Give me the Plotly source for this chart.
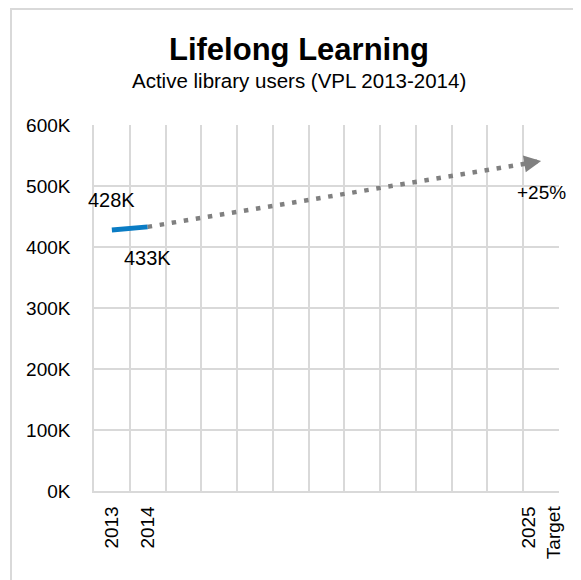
import plotly.graph_objects as go

# Data
categories = ["2013", "2014", "2015", "2016", "2017", "2018", "2019", "2020",
              "2021", "2022", "2023", "2024", "2025<br>Target"]
tick_labels = ["2013", "2014", "", "", "", "", "", "", "", "", "", "", "2025<br>Target"]
actual_years = ["2013", "2014"]
actual_users = [428000, 433000]
actual_labels = ["428K", "433K"]
target_years = ["2014", "2025<br>Target"]
target_users = [433000, 541000]
target_label = "+25%"
y_ticks = [0, 100000, 200000, 300000, 400000, 500000, 600000]
y_tick_labels = ["0K", "100K", "200K", "300K", "400K", "500K", "600K"]

FONT = "Liberation Sans"
GRID = "#d9d9d9"

# plot area in figure pixels (page body adds an 8px offset)
L, R, T, B = 86, 551, 117, 483
W, H = R - L, B - T


def px(x):
    return (x - L) / W


def py(y):
    return (B - y) / H


def cat(c):
    return categories.index(c)


fig = go.Figure()

fig.add_trace(go.Scatter(
    x=actual_years, y=actual_users, mode="lines",
    line=dict(color="#0a7cc4", width=5),
    showlegend=False,
))
fig.add_trace(go.Scatter(
    x=target_years, y=target_users, mode="lines",
    line=dict(color="#808080", width=4.5, dash="4.5px,7.7px"),
    hoverinfo="skip", showlegend=False,
))

annotations = [
    dict(x=cat(actual_years[0]), y=actual_users[0], text=actual_labels[0], showarrow=False,
         yshift=30, font=dict(family=FONT, size=20, color="#000")),
    dict(x=cat(actual_years[1]), y=actual_users[1], text=actual_labels[1], showarrow=False,
         yshift=-31, font=dict(family=FONT, size=20, color="#000")),
    dict(x=cat(target_years[1]), y=target_users[1], text=target_label, showarrow=False,
         yshift=-32, font=dict(family=FONT, size=19, color="#000")),
    # arrowhead at the end of the projection
    dict(x=cat(target_years[1]), y=target_users[1], text="", showarrow=True,
         ax=-19.7, ay=3.3, arrowhead=2, arrowsize=0.85, arrowwidth=4,
         arrowcolor="#808080", standoff=0),
    dict(text="<b>Lifelong Learning</b>", xref="paper", yref="paper",
         x=px(291), y=py(41), showarrow=False,
         xanchor="center", yanchor="middle", font=dict(family=FONT, size=31)),
    dict(text="Active library users (VPL 2013-2014)", xref="paper", yref="paper",
         x=px(291), y=py(72), showarrow=False,
         xanchor="center", yanchor="middle", font=dict(family=FONT, size=20.5)),
]

fig.update_layout(
    width=581, height=580,
    margin=dict(l=L, r=581 - R, t=T, b=580 - B),
    paper_bgcolor="white", plot_bgcolor="white",
    font=dict(family=FONT, size=16, color="#000000"),
    xaxis=dict(
        type="category", categoryorder="array", categoryarray=categories,
        range=[-0.5, 12.5], tickson="boundaries",
        tickmode="array", tickvals=categories, ticktext=tick_labels,
        tickangle=-90, ticks="", showgrid=True, gridcolor=GRID, gridwidth=1.5,
        showline=True, linecolor=GRID, linewidth=1.5,
        tickfont=dict(family=FONT, size=19), zeroline=False,
        ticklabelstandoff=6,
    ),
    yaxis=dict(
        range=[0, 600000], tickmode="array", tickvals=y_ticks, ticktext=y_tick_labels,
        showgrid=True, gridcolor=GRID, gridwidth=1.5, zeroline=False,
        showline=True, linecolor=GRID, linewidth=1.5,
        tickfont=dict(family=FONT, size=19), ticklabelstandoff=18,
    ),
    annotations=annotations,
    shapes=[dict(type="rect", xref="paper", yref="paper",
                 x0=px(3), x1=px(600), y0=py(600), y1=py(1),
                 line=dict(color=GRID, width=2), layer="below")],
)

fig.write_html("out.html")
